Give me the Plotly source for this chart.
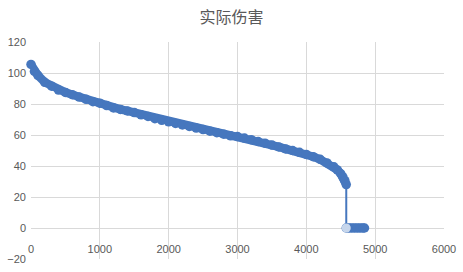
import plotly.graph_objects as go

# Curve: actual damage vs sample index
curve_x = [0, 50, 100, 200, 300, 400, 500, 600, 700, 800, 900, 1000, 1100, 1200,
           1300, 1400, 1500, 1600, 1700, 1800, 1900, 2000, 2100, 2200, 2300, 2400,
           2500, 2600, 2700, 2800, 2900, 3000, 3100, 3200, 3300, 3400, 3500, 3600,
           3700, 3800, 3900, 4000, 4100, 4200, 4300, 4400, 4450, 4500, 4530, 4560, 4580]
curve_y = [105.5, 101, 98.5, 94, 91.5, 89, 87.5, 86, 84.5, 83, 81.5, 80.5, 79, 77.5,
           76.5, 75.5, 74.5, 73, 72, 70.5, 69.5, 68.5, 67.5, 66.5, 65.5, 64.5,
           63.5, 62.5, 61.5, 60.5, 59.5, 59, 58, 57, 55.8, 54.7, 53.5, 52.3,
           51, 50, 48.8, 47.5, 46, 44.3, 42, 39.5, 37.5, 35, 33, 30.5, 28]
drop_x = [4580, 4580]
drop_y = [28, 0]
zero_x = [4580, 4620, 4660, 4700, 4740, 4780, 4820, 4845]
zero_y = [0, 0, 0, 0, 0, 0, 0, 0]
hl_x = [4580]
hl_y = [0]

blue = "#4677be"
grid = "#d9d9d9"
txt = "#595959"

fig = go.Figure()
fig.add_trace(go.Scatter(x=drop_x, y=drop_y, mode="lines",
                         line=dict(color=blue, width=2), showlegend=False,
                         cliponaxis=False))
for xs, ys in ((curve_x, curve_y), (zero_x, zero_y)):
    fig.add_trace(go.Scatter(x=xs, y=ys, mode="lines+markers",
                             line=dict(color=blue, width=8.5),
                             marker=dict(color=blue, size=9.5), showlegend=False,
                             cliponaxis=False))
fig.add_trace(go.Scatter(x=hl_x, y=hl_y, mode="markers",
                         marker=dict(color="#c6d6ec", size=9), showlegend=False,
                         cliponaxis=False))

fig.update_layout(
    width=463, height=272,
    margin=dict(l=30, r=18, t=42, b=7),
    paper_bgcolor="white", plot_bgcolor="white",
    title=dict(text="实际伤害", x=0.5, xanchor="center", y=0.935, yanchor="middle",
               font=dict(family="Noto Sans CJK SC", size=16, color=txt)),
    font=dict(family="Liberation Sans", size=11, color=txt),
    xaxis=dict(range=[0, 6000], dtick=1000, showgrid=True, gridcolor=grid, gridwidth=1,
               zeroline=False, showline=False, anchor="free", position=(20 / 140),
               ticks="", ticklabelstandoff=13, tickfont=dict(size=11, color=txt)),
    yaxis=dict(range=[-20, 120], dtick=20, showgrid=True, gridcolor=grid, gridwidth=1,
               zeroline=True, zerolinecolor=grid, zerolinewidth=1, showline=False,
               ticks="", ticklabelstandoff=4, tickfont=dict(size=11, color=txt)),
)
fig.write_html("out.html")
